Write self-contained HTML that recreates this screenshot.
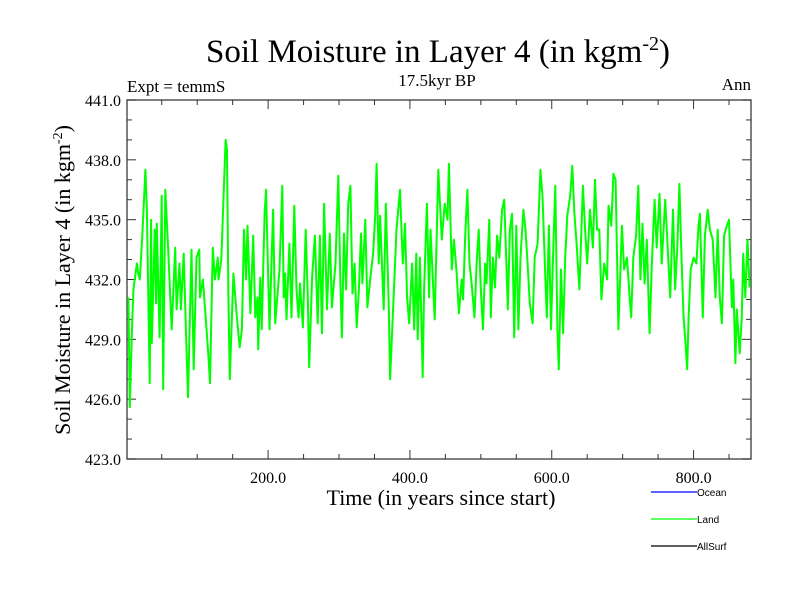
<!DOCTYPE html>
<html><head><meta charset="utf-8"><style>
body{margin:0;background:#fff;}
svg{display:block;font-family:"Liberation Serif",serif;}
</style></head><body>
<svg id="chart" width="800" height="600" xmlns="http://www.w3.org/2000/svg">
<rect width="800" height="600" fill="#fff"/>
<text x="438" y="62" font-size="33" text-anchor="middle">Soil Moisture in Layer 4 (in kgm<tspan dy="-12" font-size="20">-2</tspan><tspan dy="12">)</tspan></text>
<text x="127" y="92" font-size="17">Expt = temmS</text>
<text x="437" y="86" font-size="17" text-anchor="middle">17.5kyr BP</text>
<text x="751" y="90" font-size="17" text-anchor="end">Ann</text>
<text x="441" y="505" font-size="22" text-anchor="middle">Time (in years since start)</text>
<text transform="translate(70,280) rotate(-90)" font-size="22" text-anchor="middle">Soil Moisture in Layer 4 (in kgm<tspan dy="-8" font-size="14">-2</tspan><tspan dy="8">)</tspan></text>
<g id="axes"></g>
<g id="series"></g>
<g font-family="Liberation Sans, sans-serif" font-size="10">
<line x1="651" y1="492" x2="697" y2="492" stroke="#0000ff" stroke-width="1.3"/>
<text x="697" y="496">Ocean</text>
<line x1="651" y1="519" x2="697" y2="519" stroke="#00ff00" stroke-width="1.3"/>
<text x="697" y="523">Land</text>
<line x1="651" y1="546" x2="697" y2="546" stroke="#000" stroke-width="1.3"/>
<text x="697" y="550">AllSurf</text>
</g>
</svg>
<script>
const years=[3,5,8,10,15,17,19,23,27,29,33,35,36,40,42,43,47,50,52,55,59,64,69,71,75,77,81,84,87,92,95,99,103,104,108,112,116,118,122,125,129,130,134,140,142,144,146,151,156,160,163,166,169,171,175,179,182,185,186,189,191,195,197,202,207,210,216,220,222,224,226,230,233,237,240,243,245,249,253,256,258,262,266,270,273,276,279,283,287,290,295,299,302,304,307,310,313,316,319,322,325,328,331,333,337,340,344,348,351,353,356,358,363,366,370,372,377,381,386,390,393,396,399,403,406,409,411,414,418,420,424,427,429,433,435,440,445,449,453,455,459,462,466,469,473,475,478,481,484,487,491,494,497,500,503,506,508,512,514,517,520,523,526,530,533,536,538,541,544,547,550,553,556,560,563,566,569,573,576,580,584,587,591,593,596,599,601,605,608,610,613,616,619,622,626,629,632,635,639,644,647,650,654,658,661,664,667,670,674,678,680,684,687,690,694,699,702,706,710,712,715,719,722,725,728,731,734,738,741,745,748,752,755,758,760,764,767,771,774,777,780,783,786,789,791,793,796,800,804,807,809,813,816,820,823,827,831,834,837,840,843,847,850,854,856,859,861,865,868,870,873,876,879];
const landValues=[431.1,425.6,429.5,431.5,432.8,432.3,432.0,434.5,437.5,435.5,426.8,435.0,428.8,434.5,430.8,434.8,429.1,436.2,426.5,436.5,433.6,429.5,433.6,430.5,432.8,430.5,433.3,429.5,426.1,433.5,427.5,433.1,433.5,431.1,432.0,430.1,428.1,426.8,433.6,432.0,433.1,432.0,433.0,439.0,438.5,431.1,427.0,432.3,430.1,428.6,429.5,434.5,432.0,434.7,430.3,434.2,430.1,431.1,428.5,432.1,429.5,435.3,436.5,429.5,435.5,429.8,432.5,436.7,431.1,432.3,430.0,433.8,430.1,435.7,431.5,430.1,431.8,429.6,434.5,431.1,427.6,432.1,434.2,429.8,434.2,429.3,435.8,430.5,434.3,430.6,432.8,437.2,431.8,429.1,434.3,431.5,435.8,436.7,431.3,432.8,429.6,431.5,434.3,431.8,435.0,430.6,432.0,433.3,435.2,437.8,432.8,435.2,430.5,435.8,430.8,427.0,431.1,434.5,436.5,432.8,434.8,431.1,429.8,432.8,429.5,433.3,429.0,433.1,427.1,431.5,435.8,431.1,434.5,431.5,430.0,437.5,434.0,435.8,435.0,437.8,432.5,434.0,432.3,430.3,432.0,431.0,434.2,436.5,432.8,431.8,430.1,432.8,434.5,431.5,429.5,432.8,431.8,435.0,430.1,433.1,431.6,434.2,433.1,435.5,436.0,432.8,430.5,434.5,435.3,429.1,434.7,429.5,433.1,435.5,434.5,432.8,430.8,429.8,433.1,433.8,437.5,436.2,432.0,430.1,434.7,429.5,432.3,436.7,429.5,427.5,432.5,429.3,433.1,435.2,436.2,437.7,435.3,433.8,431.5,436.7,434.5,432.8,435.5,433.6,437.0,434.5,434.5,431.0,432.8,432.0,435.7,434.7,437.3,437.0,429.5,434.7,432.5,433.1,431.1,430.1,433.1,434.2,436.7,432.0,434.8,431.8,434.0,429.3,432.6,436.0,433.6,436.3,432.8,434.7,436.0,433.3,431.1,435.5,431.5,433.6,436.8,433.1,430.1,428.6,427.5,430.1,432.5,433.1,432.8,434.7,435.3,430.1,434.2,435.5,434.5,434.0,431.1,434.5,431.1,429.8,434.2,434.7,435.0,430.6,432.0,427.8,430.5,428.3,430.1,433.3,431.1,434.0,431.6];
const yTicks=[423,426,429,432,435,438,441];
const yTickLabels=["423.0","426.0","429.0","432.0","435.0","438.0","441.0"];
const xTicks=[200,400,600,800];
const xTickLabels=["200.0","400.0","600.0","800.0"];

const L=127,R=751,T=100,B=459,X0=1,X1=881,Y0=423,Y1=441;
const sx=v=>L+(v-X0)/(X1-X0)*(R-L);
const sy=v=>B-(v-Y0)/(Y1-Y0)*(B-T);
const NS="http://www.w3.org/2000/svg";
function mk(tag,attrs,parent){const e=document.createElementNS(NS,tag);for(const k in attrs)e.setAttribute(k,attrs[k]);parent.appendChild(e);return e;}
const ax=document.getElementById('axes');
const frame=mk('rect',{x:L,y:T,width:R-L,height:B-T,fill:'none',stroke:'#555','stroke-width':1.5},ax);


for(let v=Y0;v<=Y1;v++){const y=sy(v);const major=(v-Y0)%3===0;const len=major?9:5;
 const t1=mk('line',{x1:L,y1:y,x2:L+len,y2:y,stroke:'#333','stroke-width':1},ax);
 
 
 const t2=mk('line',{x1:R,y1:y,x2:R-len,y2:y,stroke:'#333','stroke-width':1},ax);
 
 }
yTicks.forEach((v,i)=>{const t=mk('text',{x:L-6,y:sy(v)+6,'font-size':16,'text-anchor':'end'},ax);t.textContent=yTickLabels[i];
 
 });
for(let v=50;v<X1;v+=50){const x=sx(v);const major=v%200===0;const len=major?9:5;
 const t1=mk('line',{x1:x,y1:B,x2:x,y2:B-len,stroke:'#333','stroke-width':1},ax);
 
 
 const t2=mk('line',{x1:x,y1:T,x2:x,y2:T+len,stroke:'#333','stroke-width':1},ax);
 
 }
xTicks.forEach((v,i)=>{const t=mk('text',{x:sx(v),y:B+24,'font-size':16,'text-anchor':'middle'},ax);t.textContent=xTickLabels[i];
 
 });
const pts=years.map((yr,i)=>sx(yr).toFixed(1)+','+sy(landValues[i]).toFixed(1)).join(' ');
const line=mk('polyline',{points:pts,fill:'none',stroke:'#00ff00','stroke-width':2,'stroke-linejoin':'round'},document.getElementById('series'));


</script>
</body></html>
